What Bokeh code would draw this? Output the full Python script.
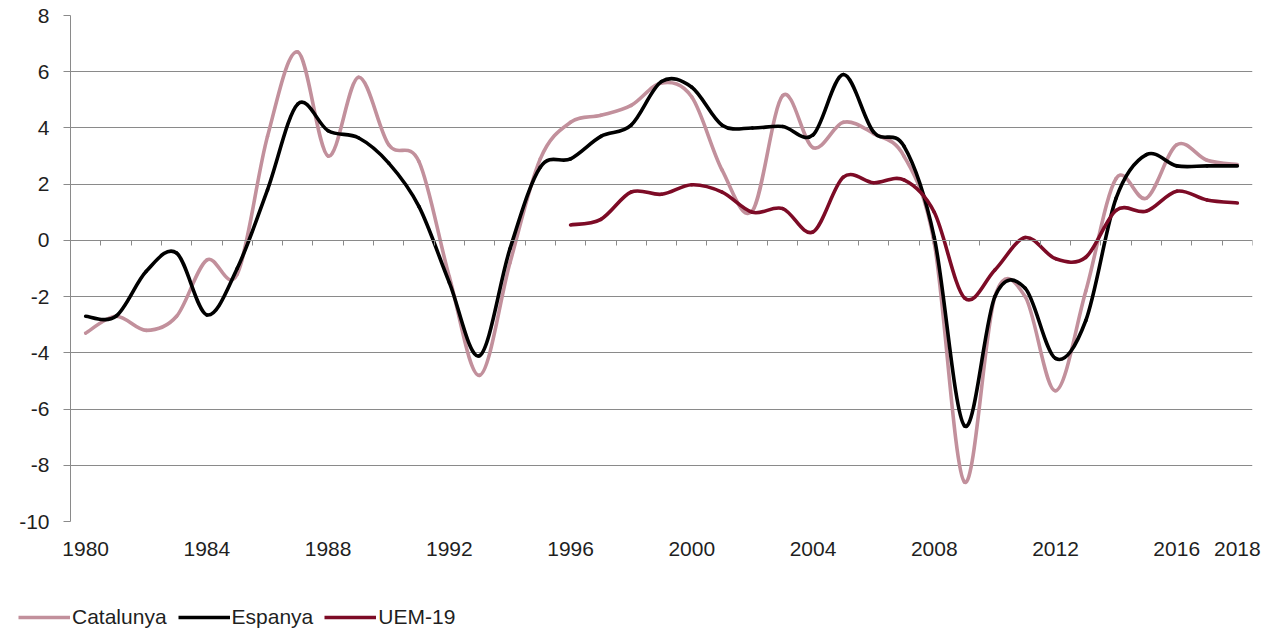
from bokeh.plotting import figure
from bokeh.layouts import column
from bokeh.models import (ColumnDataSource, FixedTicker, LinearAxis, Legend, LegendItem,
                          Range1d, CustomJSTickFormatter)
from bokeh.embed import file_html
from bokeh.resources import INLINE

# ---------------- data ----------------
years = list(range(1980, 2019))
catalunya = [-3.3, -2.7, -3.2, -2.7, -0.7, -1.2, 3.7, 6.7, 3.0, 5.8,
             3.4, 2.8, -1.3, -4.8, -0.8, 2.9, 4.2, 4.45, 4.8, 5.6,
             5.1, 2.5, 1.05, 5.15, 3.3, 4.2, 3.8, 3.0, -0.1, -8.6,
             -2.0, -2.0, -5.35, -1.8, 2.2, 1.5, 3.4, 2.85, 2.7]
espanya = [-2.7, -2.7, -1.1, -0.45, -2.65, -1.0, 1.8, 4.85, 3.9, 3.65,
           2.75, 1.2, -1.5, -4.1, -0.3, 2.6, 2.9, 3.7, 4.1, 5.65,
           5.45, 4.1, 4.0, 4.05, 3.75, 5.9, 3.85, 3.35, 0.1, -6.6,
           -2.0, -1.7, -4.2, -2.85, 1.5, 3.05, 2.65, 2.65, 2.65]
uem_years = list(range(1996, 2019))
uem19 = [0.55, 0.75, 1.72, 1.64, 1.98, 1.72, 1.0, 1.13, 0.3, 2.25,
         2.05, 2.15, 1.0, -2.05, -1.05, 0.1, -0.65, -0.6, 1.07, 1.04,
         1.75, 1.44, 1.33]
x_tick_labels = [1980, 1984, 1988, 1992, 1996, 2000, 2004, 2008, 2012, 2016, 2018]
y_ticks = [-10, -8, -6, -4, -2, 0, 2, 4, 6, 8]

series_names = ["Catalunya", "Espanya", "UEM-19"]
series_colors = ["#c2909c", "#000000", "#7d0b26"]

GRID = "#8a8a8a"
TXT = "#1f1f1f"
FONT = "Liberation Sans"


def smooth_source(xs, ys):
    """Bezier control points (Excel-like smoothed line) through the data points."""
    n = len(xs)
    d = dict(x0=[], y0=[], x1=[], y1=[], cx0=[], cy0=[], cx1=[], cy1=[])
    for i in range(n - 1):
        xa, ya = (xs[i - 1], ys[i - 1]) if i > 0 else (xs[i], ys[i])
        xd, yd = (xs[i + 2], ys[i + 2]) if i + 2 < n else (xs[i + 1], ys[i + 1])
        d["x0"].append(xs[i]); d["y0"].append(ys[i])
        d["x1"].append(xs[i + 1]); d["y1"].append(ys[i + 1])
        d["cx0"].append(xs[i] + (xs[i + 1] - xa) / 6.0)
        d["cy0"].append(ys[i] + (ys[i + 1] - ya) / 6.0)
        d["cx1"].append(xs[i + 1] - (xd - xs[i]) / 6.0)
        d["cy1"].append(ys[i + 1] - (yd - ys[i]) / 6.0)
    return ColumnDataSource(d)


p = figure(width=1278, height=575,
           x_range=Range1d(years[0] - 0.5, years[-1] + 0.5),
           y_range=Range1d(y_ticks[0], y_ticks[-1]),
           output_backend="svg", toolbar_location=None,
           min_border_left=70, min_border_right=26, min_border_top=15, min_border_bottom=54,
           outline_line_color=None, background_fill_color="white")

# grid
p.xgrid.visible = False
p.ygrid.ticker = FixedTicker(ticks=y_ticks)
p.ygrid.grid_line_color = GRID
p.ygrid.grid_line_width = 1

# y axis
p.yaxis.ticker = FixedTicker(ticks=y_ticks)
p.yaxis.formatter = CustomJSTickFormatter(code="return tick.toFixed(0)")
p.yaxis.axis_line_color = GRID
p.yaxis.major_tick_line_color = GRID
p.yaxis.major_tick_out = 7
p.yaxis.major_tick_in = 0
p.yaxis.minor_tick_out = 0
p.yaxis.minor_tick_in = 0
p.yaxis.major_label_standoff = 14
p.yaxis.major_label_text_font = FONT
p.yaxis.major_label_text_font_size = "21px"
p.yaxis.major_label_text_color = TXT

# x axis (labels only, at bottom)
p.xaxis.ticker = FixedTicker(ticks=x_tick_labels)
p.xaxis.axis_line_color = None
p.xaxis.major_tick_out = 0
p.xaxis.major_tick_in = 0
p.xaxis.minor_tick_out = 0
p.xaxis.minor_tick_in = 0
p.xaxis.major_label_standoff = 20
p.xaxis.major_label_text_font = FONT
p.xaxis.major_label_text_font_size = "21px"
p.xaxis.major_label_text_color = TXT

# category tick marks on the zero line
zero_axis = LinearAxis(fixed_location=0,
                       ticker=FixedTicker(ticks=[y - 0.5 for y in years] + [years[-1] + 0.5]),
                       formatter=CustomJSTickFormatter(code="return ''"),
                       axis_line_color=GRID, major_tick_line_color=GRID,
                       major_tick_out=5, major_tick_in=0,
                       minor_tick_out=0, minor_tick_in=0,
                       major_label_standoff=0, major_label_text_font_size="1px")
p.add_layout(zero_axis, "below")

for xs, ys, col in [(years, catalunya, series_colors[0]),
                    (years, espanya, series_colors[1]),
                    (uem_years, uem19, series_colors[2])]:
    src = smooth_source(xs, ys)
    p.bezier(x0="x0", y0="y0", x1="x1", y1="y1", cx0="cx0", cy0="cy0",
             cx1="cx1", cy1="cy1", source=src, line_color=col, line_width=3.6,
             line_cap="round", line_join="round")

# ---------------- legend strip below the chart ----------------
lg = figure(frame_width=1278, frame_height=56, x_range=Range1d(0, 1), y_range=Range1d(0, 1),
            output_backend="svg", toolbar_location=None, min_border=0,
            outline_line_color=None)
lg.axis.visible = False
lg.grid.visible = False
nan = float("nan")
leg_renderers = [lg.line(x=[nan], y=[nan], line_color=c, line_width=3.6) for c in series_colors]
legend = Legend(items=[LegendItem(label=n, renderers=[r]) for n, r in zip(series_names, leg_renderers)],
                orientation="horizontal", location=(18, 2),
                padding=0, margin=0, border_line_color=None, background_fill_alpha=0,
                glyph_width=52, glyph_height=20, label_standoff=2, spacing=11,
                label_text_font=FONT, label_text_font_size="21px", label_text_color=TXT)
lg.add_layout(legend)

layout = column(p, lg, spacing=0)
open("out.html", "w").write(file_html(layout, INLINE))
